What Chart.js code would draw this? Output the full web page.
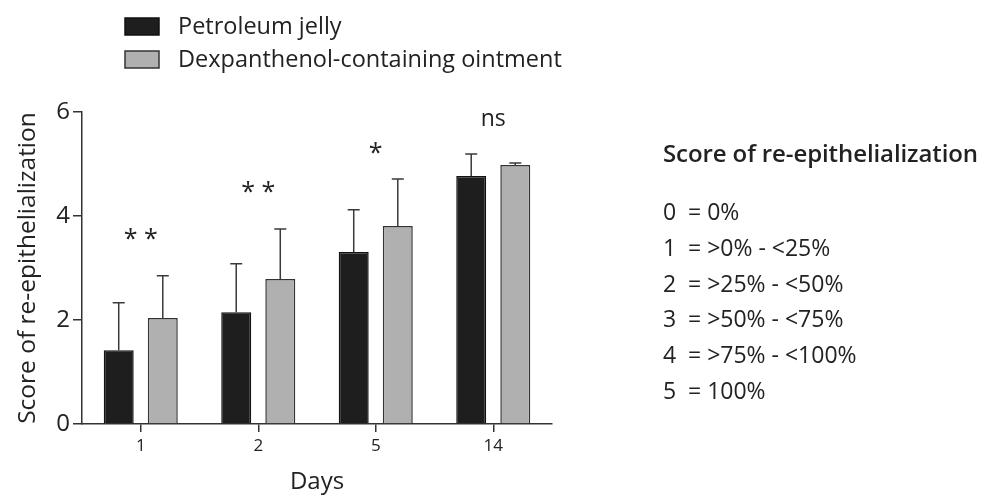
<!DOCTYPE html>
<html><head><meta charset="utf-8">
<script src="https://cdn.jsdelivr.net/npm/chart.js@4"></script>
<style>
html,body{margin:0;padding:0;background:#fff;}
#wrap{position:relative;width:984px;height:497px;overflow:hidden;}
canvas{display:block;}
#panel{position:absolute;left:663px;top:0;font-family:"Open Sans",sans-serif;color:#222;}
#panel .ttl{position:absolute;left:0;top:137px;font-size:24px;font-weight:600;white-space:nowrap;line-height:32px;letter-spacing:-0.1px;}
#panel .row{position:absolute;left:0;font-size:23px;white-space:nowrap;line-height:30px;}
#panel .row .k{position:absolute;left:0;}
#panel .row .v{position:absolute;left:25px;}
</style></head><body>
<div id="wrap"><canvas id="c" width="984" height="497"></canvas><div id="panel"></div></div>
<script>
// ---- data ----
const days = ['1', '2', '5', '14'];
const seriesNames = ['Petroleum jelly', 'Dexpanthenol-containing ointment'];
const petroleumMean = [1.42, 2.15, 3.31, 4.77];
const petroleumSD = [0.91, 0.93, 0.81, 0.42];
const dexMean = [2.04, 2.79, 3.81, 4.98];
const dexSD = [0.81, 0.96, 0.90, 0.04];
const significance = ['**', '**', '*', 'ns'];
const significanceY = [3.54, 4.44, 5.2, 5.85];
const yTickValues = [0, 2, 4, 6];
const yTitle = 'Score of re-epithelialization';
const xTitle = 'Days';
const scoreTitle = 'Score of re-epithelialization';
const scoreKeys = ['0', '1', '2', '3', '4', '5'];
const scoreDefs = ['= 0%', '= >0% - <25%', '= >25% - <50%', '= >50% - <75%', '= >75% - <100%', '= 100%'];

// ---- style ----
const F = '"Open Sans", sans-serif';
const TXT = '#222';
const AX = '#333';

// right panel
const panel = document.getElementById('panel');
const t = document.createElement('div'); t.className = 'ttl'; t.textContent = scoreTitle; panel.appendChild(t);
scoreKeys.forEach((k, i) => {
  const r = document.createElement('div'); r.className = 'row';
  r.style.top = (196 + i * 35.8) + 'px';
  const a = document.createElement('span'); a.className = 'k'; a.textContent = k;
  const b = document.createElement('span'); b.className = 'v'; b.textContent = scoreDefs[i];
  r.appendChild(a); r.appendChild(b); panel.appendChild(r);
});

const errorBars = {
  id: 'errorBars',
  afterDatasetsDraw(chart) {
    const ctx = chart.ctx;
    const sds = [petroleumSD, dexSD];
    const ys = chart.scales.y;
    ctx.save();
    ctx.strokeStyle = '#3a3a3a';
    ctx.lineWidth = 1.5;
    chart.data.datasets.forEach((ds, di) => {
      const meta = chart.getDatasetMeta(di);
      meta.data.forEach((bar, i) => {
        const top = ys.getPixelForValue(ds.data[i] + sds[di][i]);
        const x = bar.x;
        ctx.beginPath();
        ctx.moveTo(x, bar.y);
        ctx.lineTo(x, top);
        ctx.moveTo(x - 6, top);
        ctx.lineTo(x + 6, top);
        ctx.stroke();
      });
    });
    ctx.restore();
  }
};

const sigLabels = {
  id: 'sigLabels',
  afterDatasetsDraw(chart) {
    const ctx = chart.ctx;
    const xs = chart.scales.x, ys = chart.scales.y;
    ctx.save();
    ctx.fillStyle = TXT;
    ctx.textAlign = 'center';
    ctx.textBaseline = 'middle';
    significance.forEach((s, i) => {
      ctx.font = (s === 'ns' ? '23px ' : '25px ') + F;
      const txt = s === '**' ? '* *' : s;
      ctx.fillText(txt, xs.getPixelForValue(i), ys.getPixelForValue(significanceY[i]));
    });
    ctx.restore();
  }
};

const boxLegend = {
  id: 'boxLegend',
  afterDraw(chart) {
    const ctx = chart.ctx;
    ctx.save();
    chart.data.datasets.forEach((ds, i) => {
      const y = 18 + i * 33;
      ctx.fillStyle = ds.backgroundColor;
      ctx.strokeStyle = ds.borderColor;
      ctx.lineWidth = 1.5;
      ctx.fillRect(125, y, 34, 17);
      ctx.strokeRect(125, y, 34, 17);
      ctx.fillStyle = TXT;
      ctx.font = '23.5px ' + F;
      ctx.textBaseline = 'middle';
      ctx.textAlign = 'left';
      ctx.fillText(ds.label, 178, y + 9);
    });
    ctx.restore();
  }
};

new Chart(document.getElementById('c'), {
  type: 'bar',
  data: {
    labels: days,
    datasets: [
      { label: seriesNames[0], data: petroleumMean, backgroundColor: '#1e1e1e', borderColor: '#111', borderWidth: 1.5 },
      { label: seriesNames[1], data: dexMean, backgroundColor: '#b0b0b0', borderColor: '#333', borderWidth: 1.5 }
    ]
  },
  options: {
    responsive: false,
    animation: false,
    categoryPercentage: 0.75,
    barPercentage: 0.68,
    layout: { padding: { left: 0, top: 112, right: 432, bottom: 0 } },
    plugins: { legend: { display: false }, tooltip: { enabled: false } },
    scales: {
      x: {
        grid: { offset: false, drawOnChartArea: false, drawTicks: true, tickLength: 8, color: AX, lineWidth: 1.5 },
        border: { display: true, color: AX, width: 1.5 },
        ticks: { color: TXT, font: { family: F, size: 17 }, padding: 4 },
        title: { display: true, text: xTitle, color: TXT, font: { family: F, size: 24 }, padding: { top: 0, bottom: 0 } },
        afterFit(s) { s.height = 497 - 424; }
      },
      y: {
        min: 0, max: 6,
        afterBuildTicks(s) { s.ticks = yTickValues.map(v => ({ value: v })); },
        grid: { drawOnChartArea: false, drawTicks: true, tickLength: 9, color: AX, lineWidth: 1.5 },
        border: { display: true, color: AX, width: 1.5 },
        ticks: { color: TXT, font: { family: F, size: 24 }, padding: 3 },
        title: { display: true, text: yTitle, color: TXT, font: { family: F, size: 24.5 }, padding: { top: 13, bottom: 0 } },
        afterFit(s) { s.width = 82; }
      }
    }
  },
  plugins: [errorBars, sigLabels, boxLegend]
});
</script>
</body></html>
